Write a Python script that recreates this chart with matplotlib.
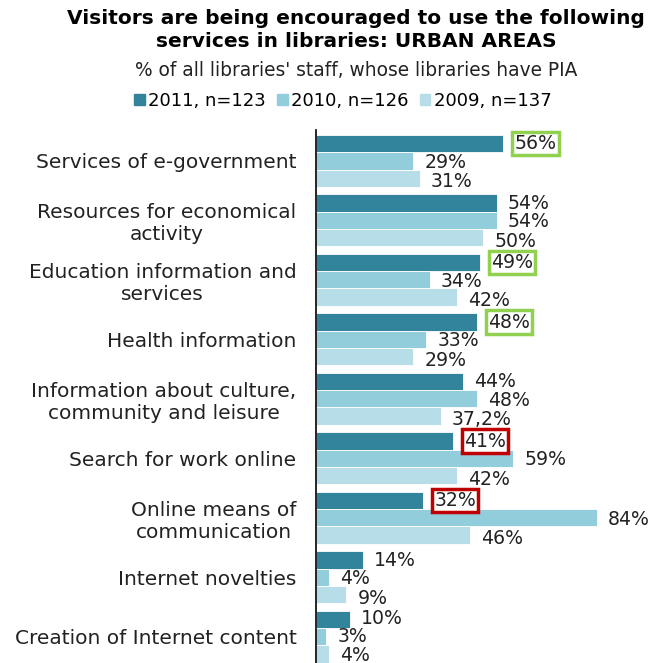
import numpy as np
import matplotlib
matplotlib.use("Agg")
import matplotlib.pyplot as plt
from matplotlib.patches import Patch

plt.rcParams['font.family'] = ['DejaVu Sans']

categories = ["Services of e-government", "Resources for economical\nactivity",
              "Education information and\nservices", "Health information",
              "Information about culture,\ncommunity and leisure", "Search for work online",
              "Online means of\ncommunication", "Internet novelties",
              "Creation of Internet content"]
v2011 = [56, 54, 49, 48, 44, 41, 32, 14, 10]
v2010 = [29, 54, 34, 33, 48, 59, 84, 4, 3]
v2009 = [31, 50, 42, 29, 37.2, 42, 46, 9, 4]
series_names = ["2011, n=123", "2010, n=126", "2009, n=137"]
colors = ["#31849b", "#92cddc", "#b7dee8"]
# highlighted 2011 labels: index -> box colour
boxes = {0: "#92d050", 2: "#92d050", 3: "#92d050", 5: "#c00000", 6: "#c00000"}

fig = plt.figure(figsize=(6.53, 6.63), dpi=100)
ax = fig.add_axes([0.484, 0.0, 0.516, 0.804])

y = np.arange(len(categories))
h = 0.29

def fmt(v):
    return (f"{v:.1f}".replace(".", ",") if v != int(v) else f"{int(v)}") + "%"

for k, (vals, col) in enumerate(zip([v2011, v2010, v2009], colors)):
    pos = y + (k - 1) * h
    ax.barh(pos, vals, height=h, color=col, edgecolor="white", linewidth=0.6)
    for i, (p, v) in enumerate(zip(pos, vals)):
        kw = {}
        if k == 0 and i in boxes:
            kw["bbox"] = dict(boxstyle="square,pad=0.12", fc="white",
                              ec=boxes[i], lw=2.5)
        dy = [0, -1, -2.5][k] if i < len(categories) - 1 else [1, 0.3, -0.7][k]
        ax.annotate(fmt(v), (v, p), xytext=(8, dy),
                    textcoords="offset points", va="center", ha="left",
                    fontsize=13.6, color="#222222", **kw)

ax.set_ylim(8.44, -0.52)
ax.set_xlim(0, 100.7)
ax.set_yticks(y)
ax.set_yticklabels(categories, fontsize=14.5, multialignment="center",
                   color="#222222", linespacing=1.2)
ax.tick_params(axis="y", length=0, pad=14)
ax.set_xticks([])
for s in ["top", "right", "bottom"]:
    ax.spines[s].set_visible(False)
ax.spines["left"].set_linewidth(1.2)

fig.text(0.545, 0.986, "Visitors are being encouraged to use the following\nservices in libraries: URBAN AREAS",
         ha="center", va="top", fontsize=14.5, fontweight="bold", linespacing=1.25)
fig.text(0.546, 0.894, "% of all libraries' staff, whose libraries have PIA",
         ha="center", va="center", fontsize=13.4, color="#222222")
handles = [Patch(color=c) for c in colors]
fig.legend(handles, series_names, loc="center", bbox_to_anchor=(0.525, 0.848), ncol=3,
           frameon=False, fontsize=13, handlelength=0.6, handleheight=0.6,
           handletextpad=0.2, columnspacing=0.6)

fig.savefig("out.png", dpi=100)
